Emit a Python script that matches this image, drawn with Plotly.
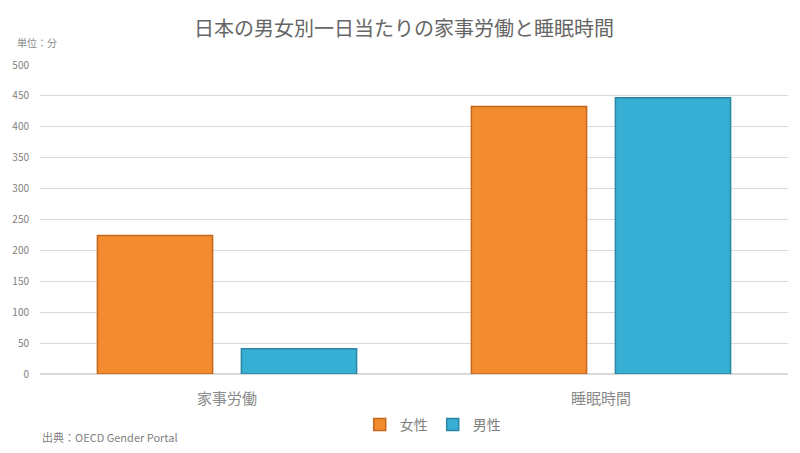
import plotly.graph_objects as go

categories = ["家事労働", "睡眠時間"]
women = [224, 433]
men = [41, 447]
y_ticks = [0, 50, 100, 150, 200, 250, 300, 350, 400, 450, 500]

FONT = "Noto Sans CJK JP"

fig = go.Figure()
fig.add_trace(go.Bar(
    name="女性", x=categories, y=women,
    marker=dict(color="#F28C2E", line=dict(color="#C4661C", width=1.5)),
))
fig.add_trace(go.Bar(
    name="男性", x=categories, y=men,
    marker=dict(color="#37AED3", line=dict(color="#2A86A3", width=1.5)),
))

# page has an 8px body margin, so the figure is a bit smaller
fig.update_layout(
    width=792, height=445,
    margin=dict(l=32, r=12, t=57, b=79),
    paper_bgcolor="white", plot_bgcolor="white",
    font=dict(family=FONT, color="#7f7f7f"),
    barmode="group", bargap=0.23, bargroupgap=0.2,
    title=dict(text="日本の男女別一日当たりの家事労働と睡眠時間",
               x=0.5, xanchor="center", y=0.952, yanchor="middle",
               font=dict(size=20, color="#666666", family=FONT)),
    showlegend=True,
    legend=dict(orientation="h", x=0.525, xanchor="center", y=-0.165, yanchor="middle",
                font=dict(size=14, color="#808080"), itemwidth=30),
    xaxis=dict(showline=False, ticks="", ticklabelstandoff=14, automargin=False,
               tickfont=dict(size=15, color="#8a8a8a")),
    yaxis=dict(range=[0, 500], tickvals=y_ticks, showgrid=True, gridcolor="#d9d9d9",
               gridwidth=1, zeroline=True, zerolinecolor="#d9d9d9", automargin=False,
               tickfont=dict(size=10, color="#7f7f7f"), ticklabelstandoff=10),
)

fig.add_annotation(text="単位：分", xref="paper", yref="paper", x=-0.033, y=1.074,
                   xanchor="left", yanchor="middle", showarrow=False,
                   font=dict(size=10, color="#8a8a8a"))
fig.add_annotation(text="出典：OECD Gender Portal", xref="paper", yref="paper", x=0.0, y=-0.204,
                   xanchor="left", yanchor="middle", showarrow=False,
                   font=dict(size=11, color="#7f7f7f"))

fig.write_html("out.html")
